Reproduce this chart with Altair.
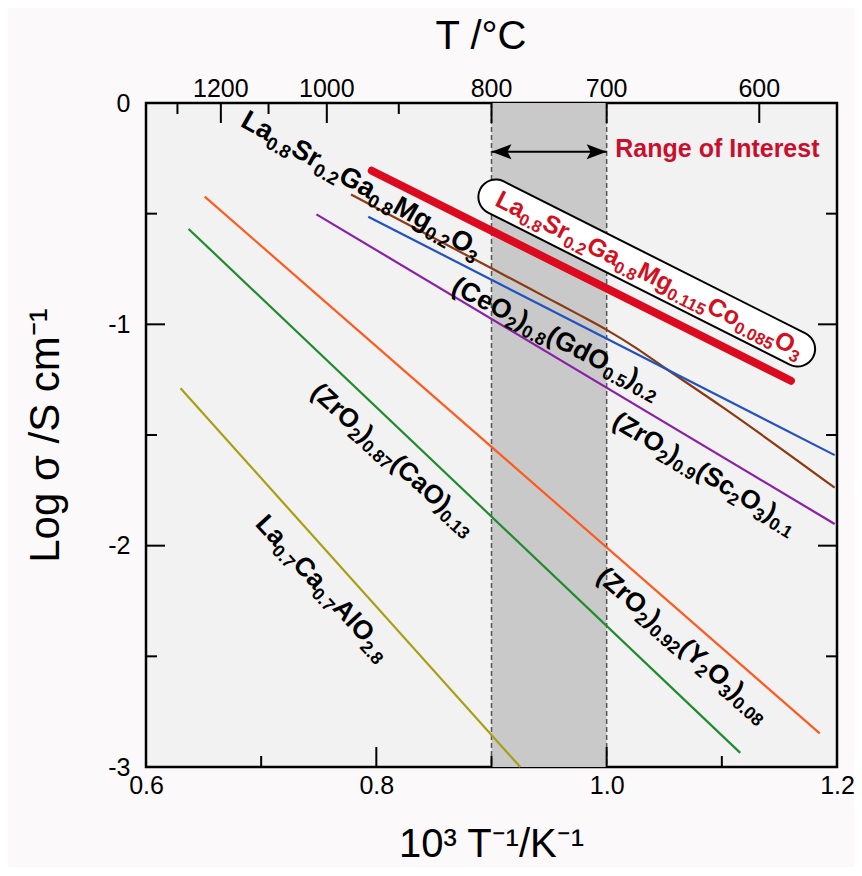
import math
import altair as alt
import pandas as pd

W, H = 691, 664
X_DOM = [0.6, 1.2]
Y_DOM = [-3.0, 0.0]
PXX = W / (X_DOM[1] - X_DOM[0])
PXY = H / (Y_DOM[1] - Y_DOM[0])
FONT = "Liberation Sans"

# ---------------- data ----------------
series_names = ["LSGMC", "LSGM", "CGO", "ScSZ", "YSZ", "CSZ", "LCA"]
series_colors = ["#dc0a1e", "#8b3a12", "#2152c0", "#8a1fa8", "#ff5a1e", "#1f8a2e", "#a89f12"]
series_x = [
    [0.796, 1.160],
    [0.778, 0.90, 0.95, 0.975, 1.00, 1.025, 1.05, 1.10, 1.198],
    [0.793, 1.198],
    [0.748, 1.198],
    [0.651, 1.185],
    [0.637, 1.116],
    [0.630, 0.925],
]
series_y = [
    [-0.306, -1.255],
    [-0.413, -0.747, -0.885, -0.954, -1.025, -1.105, -1.195, -1.372, -1.738],
    [-0.514, -1.591],
    [-0.503, -1.902],
    [-0.423, -2.848],
    [-0.569, -2.936],
    [-1.289, -3.0],
]

label_markup = [
    "La_{0.8}Sr_{0.2}Ga_{0.8}Mg_{0.2}O_{3}",
    "La_{0.8}Sr_{0.2}Ga_{0.8}Mg_{0.115}Co_{0.085}O_{3}",
    "(CeO_{2})_{0.8}(GdO_{0.5})_{0.2}",
    "(ZrO_{2})_{0.9}(Sc_{2}O_{3})_{0.1}",
    "(ZrO_{2})_{0.92}(Y_{2}O_{3})_{0.08}",
    "(ZrO_{2})_{0.87}(CaO)_{0.13}",
    "La_{0.7}Ca_{0.7}AlO_{2.8}",
]
label_x = [0.681, 0.902, 0.864, 1.0035, 0.990, 0.742, 0.694]
label_y = [-0.102, -0.461, -0.853, -1.458, -2.150, -1.316, -1.905]
label_angle = [29.5, 26.7, 27.5, 31.0, 41.0, 42.0, 47.5]
label_color = ["black", "#d4101e", "black", "black", "black", "black", "black"]
label_size = [27.5, 25, 26.5, 26, 26.5, 26, 26.5]

band_x = [0.9, 1.0]
arrow_y = -0.22
roi_text = "Range of Interest"
roi_x, roi_y = 1.0075, -0.243

bubble_x = [0.9038, 1.1658]
bubble_y = [-0.4248, -1.1116]

bottom_labels = [0.6, 0.8, 1.0, 1.2]
bottom_major = [0.8, 1.0]
bottom_minor = [0.7, 0.9, 1.1]
left_labels = [0, -1, -2, -3]
left_major = [-1, -2]
left_minor = [-0.5, -1.5, -2.5]
top_pos = [0.665, 0.757, 0.900, 1.000, 1.1325]
top_text = ["1200", "1000", "800", "700", "600"]
top_minor = [0.6273, 0.7064, 0.8195]

# ---------------- helpers ----------------
BOLD_W = {'(': 333, ')': 333, '.': 278, ' ': 278, 'A': 722, 'C': 722, 'G': 778, 'L': 611,
          'M': 833, 'O': 778, 'S': 667, 'Y': 667, 'Z': 611, 'a': 556, 'c': 556, 'd': 611,
          'e': 556, 'g': 611, 'l': 278, 'o': 611, 'r': 389}
for ch in "0123456789":
    BOLD_W[ch] = 556


def parse(markup):
    out, buf, i = [], "", 0
    while i < len(markup):
        if markup[i] == "_" and markup[i + 1] == "{":
            if buf:
                out.append((buf, False))
                buf = ""
            j = markup.index("}", i)
            out.append((markup[i + 2:j], True))
            i = j + 1
        else:
            buf += markup[i]
            i += 1
    if buf:
        out.append((buf, False))
    return out


rows = []
for mk, x0, y0, ang, col, fs in zip(label_markup, label_x, label_y, label_angle, label_color, label_size):
    th = math.radians(ang)
    sub_fs = fs * 0.67
    shift = fs * 0.22
    s = 0.0
    for txt, sub in parse(mk):
        size = sub_fs if sub else fs
        d = shift if sub else 0.0
        pdx = s * math.cos(th) - d * math.sin(th)
        pdy = s * math.sin(th) + d * math.cos(th)
        rows.append({"x": x0 + pdx / PXX, "y": y0 - pdy / PXY, "t": txt,
                     "angle": ang, "size": size, "color": col})
        s += sum(BOLD_W.get(c, 556) for c in txt) * size / 1000.0
labels_df = pd.DataFrame(rows)

line_rows = []
for name, col, xs_, ys_ in zip(series_names, series_colors, series_x, series_y):
    for i, (xv, yv) in enumerate(zip(xs_, ys_)):
        line_rows.append({"series": name, "color": col, "x": xv, "y": yv, "i": i})
lines_df = pd.DataFrame(line_rows)

xs = alt.Scale(domain=X_DOM, nice=False, zero=False)
ys = alt.Scale(domain=Y_DOM, nice=False, zero=False)

# ---------------- layers ----------------
band = alt.Chart(pd.DataFrame({"x": [band_x[0]], "x2": [band_x[1]]})).mark_rect(
    color="#c9c9c9").encode(
    x=alt.X("x:Q", scale=xs, axis=alt.Axis(
        values=bottom_labels, format=".1f", ticks=False, domain=False, grid=False,
        labelFontSize=25, labelPadding=6, labelColor="black", labelFont=FONT,
        labelFlush=False, labelOverlap=False,
        title="10³ T⁻¹/K⁻¹", titleFontSize=40, titleFontWeight="normal", titleFont=FONT,
        titleColor="black", titleBaseline="alphabetic", titleY=89, titleX=345)),
    x2="x2:Q",
    y=alt.value(0), y2=alt.value(H))

dashed = alt.Chart(pd.DataFrame({"x": band_x})).mark_rule(
    color="#555555", strokeWidth=1.5, strokeDash=[5, 3]).encode(
    x=alt.X("x:Q", scale=xs),
    y=alt.value(0), y2=alt.value(H))

yaxis_holder = alt.Chart(pd.DataFrame({"y": [0.0]})).mark_point(opacity=0).encode(
    x=alt.value(0),
    y=alt.Y("y:Q", scale=ys, axis=alt.Axis(
        values=left_labels, ticks=False, domain=False, grid=False,
        labelExpr="datum.value == 0 ? '0' : '-' + format(abs(datum.value), 'd')",
        labelFontSize=25, labelPadding=16, labelColor="black", labelFont=FONT,
        labelFlush=False, labelOverlap=False,
        title="Log σ /S cm⁻¹", titleFontSize=42, titleFontWeight="normal", titleFont=FONT,
        titleColor="black", titleAngle=270, titleX=-101, titleY=H / 2,
        titleAlign="center", titleBaseline="middle")))

thin_lines = alt.Chart(lines_df[lines_df.series != "LSGMC"]).mark_line(
    strokeWidth=2.2, interpolate="monotone").encode(
    x=alt.X("x:Q", scale=xs), y=alt.Y("y:Q", scale=ys),
    color=alt.Color("color:N", scale=None), detail="series:N", order="i:Q")

red_line = alt.Chart(lines_df[lines_df.series == "LSGMC"]).mark_line(
    strokeWidth=8, strokeCap="round").encode(
    x=alt.X("x:Q", scale=xs), y=alt.Y("y:Q", scale=ys),
    color=alt.Color("color:N", scale=None), order="i:Q")

bub_df = pd.DataFrame({"x": [bubble_x[0]], "x2": [bubble_x[1]], "y": [bubble_y[0]], "y2": [bubble_y[1]]})
bubble_outer = alt.Chart(bub_df).mark_rule(color="black", strokeWidth=37, strokeCap="round").encode(
    x=alt.X("x:Q", scale=xs), x2="x2:Q", y=alt.Y("y:Q", scale=ys), y2="y2:Q")
bubble_inner = alt.Chart(bub_df).mark_rule(color="white", strokeWidth=33, strokeCap="round").encode(
    x=alt.X("x:Q", scale=xs), x2="x2:Q", y=alt.Y("y:Q", scale=ys), y2="y2:Q")

labels = alt.Chart(labels_df).mark_text(
    align="left", baseline="alphabetic", font=FONT, fontWeight="bold").encode(
    x=alt.X("x:Q", scale=xs), y=alt.Y("y:Q", scale=ys), text="t:N",
    angle=alt.Angle("angle:Q", scale=None), size=alt.Size("size:Q", scale=None),
    color=alt.Color("color:N", scale=None))

arrow_df = pd.DataFrame({"x": [band_x[0]], "x2": [band_x[1]], "y": [arrow_y]})
shaft = alt.Chart(arrow_df).mark_rule(color="black", strokeWidth=2).encode(
    x=alt.X("x:Q", scale=xs), x2="x2:Q", y=alt.Y("y:Q", scale=ys))
head_l = alt.Chart(pd.DataFrame({"x": [band_x[0]], "y": [arrow_y]})).mark_point(
    shape="M0,0 L2,-0.75 L1.6,0 L2,0.75 Z", size=400, filled=True, color="black", opacity=1).encode(
    x=alt.X("x:Q", scale=xs), y=alt.Y("y:Q", scale=ys))
head_r = alt.Chart(pd.DataFrame({"x": [band_x[1]], "y": [arrow_y]})).mark_point(
    shape="M0,0 L-2,-0.75 L-1.6,0 L-2,0.75 Z", size=400, filled=True, color="black", opacity=1).encode(
    x=alt.X("x:Q", scale=xs), y=alt.Y("y:Q", scale=ys))

roi = alt.Chart(pd.DataFrame({"x": [roi_x], "y": [roi_y], "t": [roi_text]})).mark_text(
    align="left", baseline="alphabetic", font=FONT, fontWeight="bold", fontSize=25,
    color="#c8102e").encode(x=alt.X("x:Q", scale=xs), y=alt.Y("y:Q", scale=ys), text="t:N")


# ticks (inward)
def vticks(vals, top, length):
    if top:
        yy, yy2 = 0, length
    else:
        yy, yy2 = H, H - length
    return alt.Chart(pd.DataFrame({"x": vals})).mark_rule(color="black", strokeWidth=2).encode(
        x=alt.X("x:Q", scale=xs), y=alt.value(yy), y2=alt.value(yy2))


def hticks(vals, right, length):
    if right:
        xx, xx2 = W, W - length
    else:
        xx, xx2 = 0, length
    return alt.Chart(pd.DataFrame({"y": vals})).mark_rule(color="black", strokeWidth=2).encode(
        y=alt.Y("y:Q", scale=ys), x=alt.value(xx), x2=alt.value(xx2))


ticks = [
    vticks(bottom_major, False, 20), vticks(bottom_minor, False, 11),
    vticks(top_pos, True, 20), vticks(top_minor, True, 11),
    hticks(left_major, False, 19), hticks(left_minor, False, 11),
    hticks(left_major, True, 19), hticks(left_minor, True, 11),
]

top_lbl = alt.Chart(pd.DataFrame({"x": top_pos, "t": top_text})).mark_text(
    align="center", baseline="alphabetic", font=FONT, fontSize=25, color="black").encode(
    x=alt.X("x:Q", scale=xs), y=alt.value(-6), text="t:N")

top_title = alt.Chart(pd.DataFrame({"t": ["T /°C"]})).mark_text(
    align="center", baseline="alphabetic", font=FONT, fontSize=40, color="black").encode(
    x=alt.value(335), y=alt.value(-54), text="t:N")

chart = alt.layer(
    band, dashed, yaxis_holder, thin_lines, red_line, bubble_outer, bubble_inner,
    labels, shaft, head_l, head_r, roi, *ticks, top_lbl, top_title
).properties(
    width=W, height=H,
    autosize=alt.AutoSizeParams(type="none"),
    padding={"left": 138, "top": 95, "right": 17, "bottom": 100},
).configure(background="#fcf9fb").configure_view(
    fill="#f2f2f2", stroke="black", strokeWidth=2.5)

chart.save("out.html", embed_options={"renderer": "svg", "actions": False})
